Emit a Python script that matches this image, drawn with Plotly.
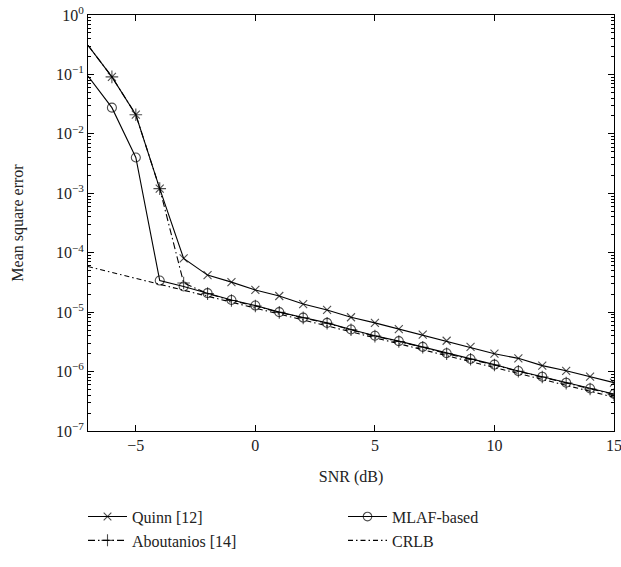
import plotly.graph_objects as go

snr_db = [-7, -6, -5, -4, -3, -2, -1, 0, 1, 2, 3, 4, 5, 6, 7, 8, 9, 10, 11, 12, 13, 14, 15]

quinn = [3.1e-1, 9.1e-2, 2.1e-2, 1.2e-3, 8.0e-5, 4.2e-5, 3.2e-5, 2.36e-5, 1.87e-5, 1.37e-5,
         1.09e-5, 8.2e-6, 6.6e-6, 5.2e-6, 4.2e-6, 3.3e-6, 2.6e-6, 2.0e-6, 1.67e-6, 1.26e-6,
         1.03e-6, 8.2e-7, 6.5e-7]

aboutanios = [3.1e-1, 9.1e-2, 2.1e-2, 1.2e-3, 3.1e-5, 2.05e-5, 1.57e-5, 1.27e-5, 9.9e-6, 8.0e-6,
              6.5e-6, 5.05e-6, 3.95e-6, 3.2e-6, 2.57e-6, 2.0e-6, 1.61e-6, 1.29e-6, 1.01e-6, 8.1e-7,
              6.4e-7, 5.1e-7, 4.1e-7]

mlaf = [9.4e-2, 2.76e-2, 4.0e-3, 3.4e-5, 2.7e-5, 2.09e-5, 1.6e-5, 1.29e-5, 1.0e-5, 8.1e-6,
        6.6e-6, 5.1e-6, 4.0e-6, 3.25e-6, 2.6e-6, 2.03e-6, 1.63e-6, 1.31e-6, 1.02e-6, 8.2e-7,
        6.5e-7, 5.2e-7, 4.2e-7]

crlb = [5.86e-5, 4.66e-5, 3.70e-5, 2.94e-5, 2.34e-5, 1.85e-5, 1.47e-5, 1.17e-5, 9.29e-6, 7.38e-6,
        5.86e-6, 4.66e-6, 3.70e-6, 2.94e-6, 2.34e-6, 1.85e-6, 1.47e-6, 1.17e-6, 9.29e-7, 7.38e-7,
        5.86e-7, 4.66e-7, 3.70e-7]

x_ticks = [-5, 0, 5, 10, 15]
x_tick_text = ["−5", "0", "5", "10", "15"]
y_tick_vals = [1, 1e-1, 1e-2, 1e-3, 1e-4, 1e-5, 1e-6, 1e-7]
y_tick_text = ["10<sup>0</sup>", "10<sup>−1</sup>", "10<sup>−2</sup>", "10<sup>−3</sup>",
               "10<sup>−4</sup>", "10<sup>−5</sup>", "10<sup>−6</sup>", "10<sup>−7</sup>"]

FONT = "Liberation Serif, Times New Roman, serif"
TXT = "#222"


def marker_sizes(size):
    # no marker drawn at the first (left-edge) point, as in the reference
    return [0] + [size] * (len(snr_db) - 1)


fig = go.Figure()

fig.add_trace(go.Scatter(
    x=snr_db, y=crlb, name="CRLB", mode="lines", legendrank=4,
    line=dict(color="black", width=1.1, dash="5px,3px,1.5px,3px")))
fig.add_trace(go.Scatter(
    x=snr_db, y=aboutanios, name="Aboutanios [14]", mode="lines+markers", legendrank=3,
    line=dict(color="black", width=1.1, dash="7px,3px,1.5px,3px"),
    marker=dict(symbol="cross-thin-open", size=marker_sizes(9), line=dict(color="black", width=1.1))))
fig.add_trace(go.Scatter(
    x=snr_db, y=mlaf, name="MLAF-based", mode="lines+markers", legendrank=2,
    line=dict(color="black", width=1.1),
    marker=dict(symbol="circle-open", size=marker_sizes(9), color="black",
                line=dict(color="black", width=1.1))))
fig.add_trace(go.Scatter(
    x=snr_db, y=quinn, name="Quinn [12]", mode="lines+markers", legendrank=1,
    line=dict(color="black", width=1.1),
    marker=dict(symbol="x-thin-open", size=marker_sizes(8), line=dict(color="black", width=1.1))))

axis_common = dict(showgrid=False, zeroline=False, showline=True, linecolor="black", linewidth=1,
                   mirror="ticks", ticks="inside", tickcolor="black", ticklen=6, automargin=False,
                   tickfont=dict(family=FONT, size=16, color=TXT))

fig.update_xaxes(range=[-7, 15], tickvals=x_ticks, ticktext=x_tick_text, ticklabeloverflow="allow",
                 title=dict(text="SNR (dB)", font=dict(family=FONT, size=16, color=TXT), standoff=17),
                 **axis_common)
fig.update_yaxes(type="log", range=[-7, 0], tickvals=y_tick_vals, ticktext=y_tick_text,
                 ticklabeloverflow="allow",
                 minor=dict(ticks="inside", ticklen=3, tickcolor="black",
                            tickvals=[m * 10 ** e for e in range(-7, 0) for m in range(2, 10)]),
                 title=dict(text="Mean square error", font=dict(family=FONT, size=16, color=TXT), standoff=28),
                 **axis_common)

fig.update_layout(
    width=621, height=567,
    margin=dict(l=88, r=7, t=15, b=136, autoexpand=False),
    paper_bgcolor="white", plot_bgcolor="white",
    font=dict(family=FONT, size=16, color=TXT),
    showlegend=True,
    legend=dict(orientation="h", x=-0.0095, xanchor="left", y=-0.165, yanchor="top",
                entrywidth=206, entrywidthmode="pixels", traceorder="normal",
                font=dict(family=FONT, size=16, color=TXT), itemwidth=39,
                tracegroupgap=0, bgcolor="rgba(0,0,0,0)"),
)

fig.write_html("out.html", config={"displayModeBar": False},
               post_script="document.body.style.margin='0px';document.body.style.overflow='hidden';")
